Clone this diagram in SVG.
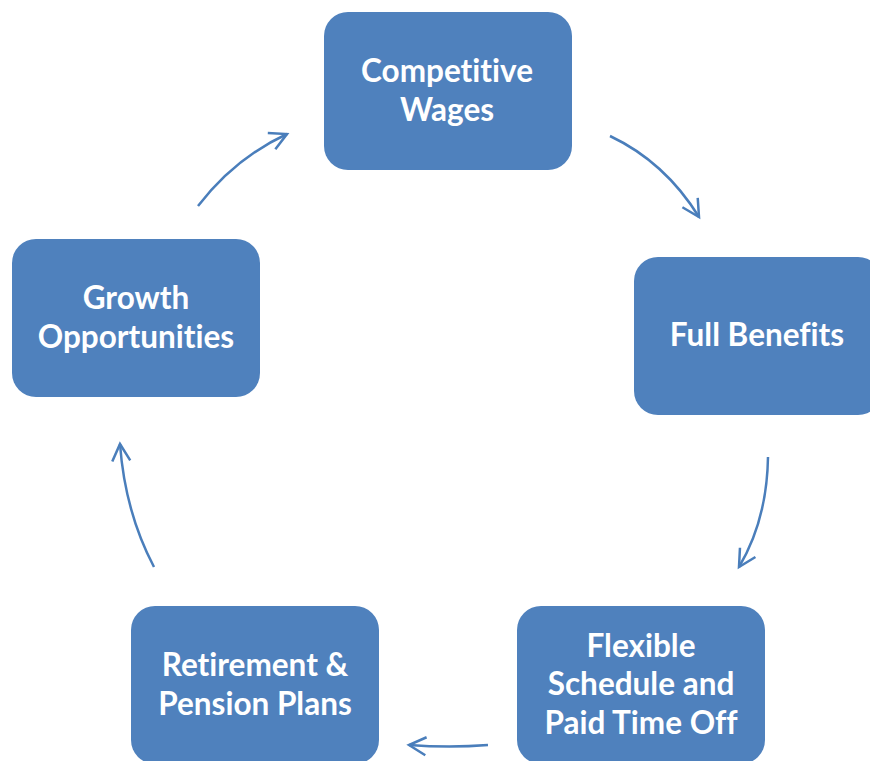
<svg xmlns="http://www.w3.org/2000/svg" width="870" height="761" viewBox="0 0 870 761">
<style>
.box{fill:#4F81BD;}
.lbl{font-family:Lato,"Open Sans","Liberation Sans",sans-serif;font-weight:bold;font-size:31.5px;fill:#FFFFFF;text-anchor:middle;font-variant-ligatures:none;}
.conn{fill:none;stroke:#4A7EBB;stroke-width:2.5;marker-end:url(#ah);}
</style>
<defs>
<marker id="ah" markerUnits="userSpaceOnUse" markerWidth="40" markerHeight="40" viewBox="-20 -20 40 40" refX="0" refY="0" orient="auto">
<path d="M-17,-9 L0,0 L-17,9" fill="none" stroke="#4A7EBB" stroke-width="2.5"/>
</marker>
</defs>
<rect width="870" height="761" fill="#FFFFFF"/>
<g id="connectors">
<path class="conn" d="M198,206 Q235,158 287,134"/>
<path class="conn" d="M610,136 Q665,162 699,217"/>
<path class="conn" d="M768,457 Q767,520 739,567"/>
<path class="conn" d="M488,745 Q450,748 409,745"/>
<path class="conn" d="M154,567 Q125,512 120,444"/>
</g>
<g id="competitive-wages">
<rect class="box" x="324" y="12" width="248" height="158" rx="24"/>
<text class="lbl" x="447" y="82">Competitive</text>
<text class="lbl" x="447" y="121">Wages</text>
</g>
<g id="full-benefits">
<rect class="box" x="634" y="257" width="248" height="158" rx="24"/>
<text class="lbl" x="757" y="346">Full Benefits</text>
</g>
<g id="flexible-schedule">
<rect class="box" x="517" y="606" width="248" height="158" rx="24"/>
<text class="lbl" x="641" y="657">Flexible</text>
<text class="lbl" x="641" y="695">Schedule and</text>
<text class="lbl" x="641" y="734">Paid Time Off</text>
</g>
<g id="retirement-pension">
<rect class="box" x="131" y="606" width="248" height="158" rx="24"/>
<text class="lbl" x="255" y="676">Retirement &amp;</text>
<text class="lbl" x="255" y="715">Pension Plans</text>
</g>
<g id="growth-opportunities">
<rect class="box" x="12" y="239" width="248" height="158" rx="24"/>
<text class="lbl" x="136" y="309">Growth</text>
<text class="lbl" x="136" y="348">Opportunities</text>
</g>
</svg>
